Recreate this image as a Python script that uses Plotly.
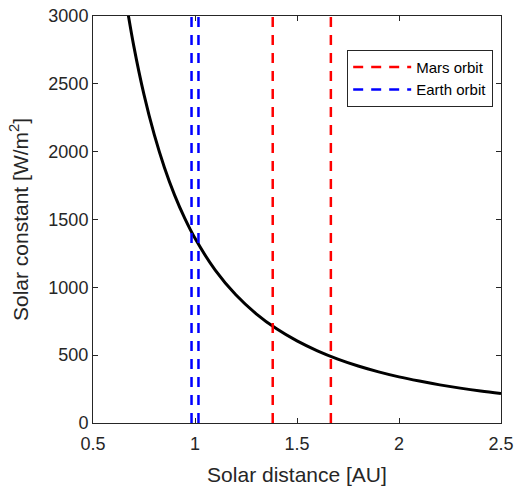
import plotly.graph_objects as go

# Values
distance_au = [0.66, 0.70, 0.75, 0.80, 0.85, 0.90, 0.95, 1.00, 1.10, 1.20, 1.30, 1.40,
               1.50, 1.60, 1.70, 1.80, 1.90, 2.00, 2.10, 2.20, 2.30, 2.40, 2.50]
solar_constant = [3125, 2778, 2420, 2127, 1884, 1680, 1508, 1361, 1125, 945, 805, 694,
                  605, 532, 471, 420, 377, 340, 309, 281, 257, 236, 218]
mars_orbit = [1.381, 1.666]
earth_orbit = [0.983, 1.017]
x_ticks = [0.5, 1, 1.5, 2, 2.5]
y_ticks = [0, 500, 1000, 1500, 2000, 2500, 3000]
x_range = [0.5, 2.5]
y_range = [0, 3000]


def vlines(xs):
    xx, yy = [], []
    for d in xs:
        xx += [d, d, None]
        yy += [y_range[0], y_range[1], None]
    return xx, yy


fig = go.Figure()
fig.add_trace(go.Scatter(x=distance_au, y=solar_constant, mode="lines",
                         line=dict(color="black", width=3, shape="spline"),
                         showlegend=False, hoverinfo="skip"))
mx, my = vlines(mars_orbit)
fig.add_trace(go.Scatter(x=mx, y=my, mode="lines", name="Mars orbit",
                         line=dict(color="#ff0000", width=2.5, dash="10px,8px")))
ex, ey = vlines(earth_orbit)
fig.add_trace(go.Scatter(x=ex, y=ey, mode="lines", name="Earth orbit",
                         line=dict(color="#0000ff", width=2.5, dash="10px,8px")))

axis_common = dict(showgrid=False, zeroline=False, showline=True, mirror="ticks",
                   linecolor="#262626", linewidth=1, ticks="inside", ticklen=5,
                   tickcolor="#262626", tickfont=dict(size=18, color="#262626"),
                   ticklabeloverflow="allow", automargin=False)

fig.update_layout(
    width=516, height=487,
    margin=dict(l=93, r=15, t=16, b=64),
    paper_bgcolor="white", plot_bgcolor="white",
    font=dict(family="Liberation Sans, Arial, sans-serif", color="#262626"),
    xaxis=dict(range=x_range, tickvals=x_ticks, ticktext=["0.5", "1", "1.5", "2", "2.5"],
               ticklabelstandoff=4,
               title=dict(text="Solar distance [AU]", font=dict(size=21), standoff=14),
               **axis_common),
    yaxis=dict(range=y_range, tickvals=y_ticks,
               title=dict(text="Solar constant [W/m<sup>2</sup>]", font=dict(size=21), standoff=14),
               **axis_common),
    legend=dict(x=0.623, y=0.917, xanchor="left", yanchor="top",
                bgcolor="white", bordercolor="#262626", borderwidth=1,
                itemwidth=58,
                font=dict(size=15, color="black"), tracegroupgap=0),
)

# remove the browser's default 8px page margin so the figure fills the window
fig.write_html("out.html", config={"displayModeBar": False},
               post_script="document.body.style.margin='0';")
